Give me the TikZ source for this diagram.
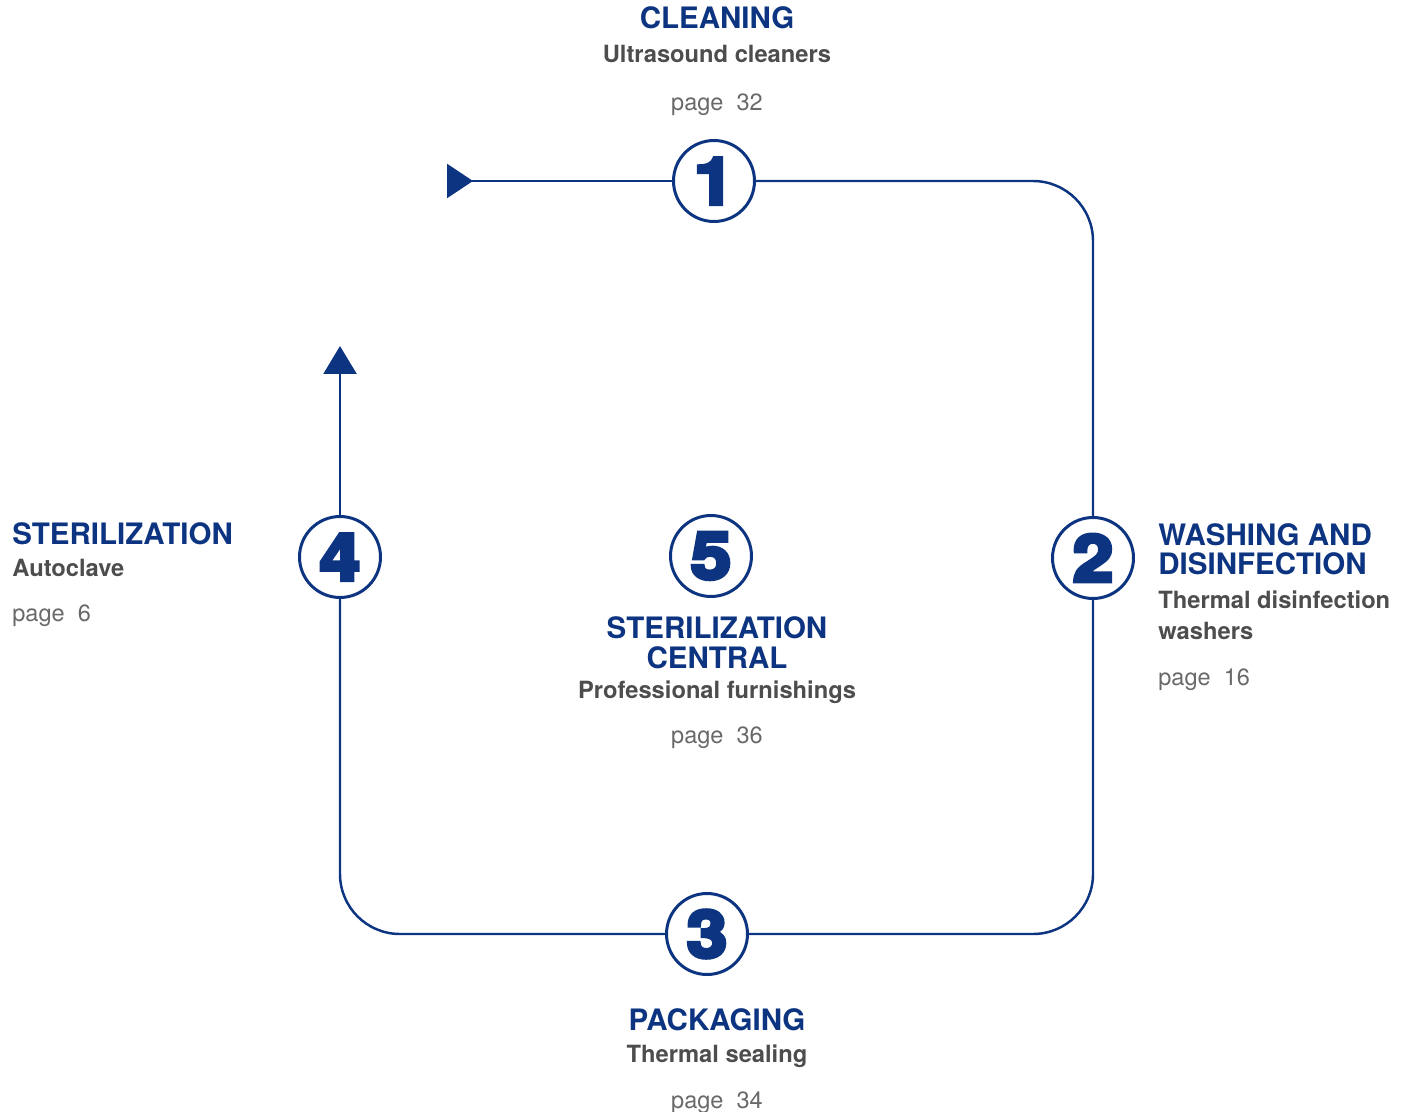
\documentclass[tikz,border=0pt]{standalone}
\usepackage{fontspec}
\setmainfont{TeX Gyre Heros}
\newfontfamily\digitfont[BoldFeatures={FakeBold=6,FakeStretch=1.12}]{TeX Gyre Heros}
\usetikzlibrary{arrows.meta}
\definecolor{stepblue}{RGB}{12,52,128}
\definecolor{subgray}{RGB}{77,77,77}
\definecolor{pagegray}{RGB}{105,105,105}

\begin{document}
\begin{tikzpicture}[x=0.02cm,y=-0.02cm,
    flow/.style={draw=stepblue,line width=1.4pt,rounded corners=1.2cm},
    stepnum/.style={circle,draw=stepblue,line width=1.7pt,fill=white,minimum size=1.62cm,inner sep=0pt,
      text=stepblue,font=\digitfont\fontsize{37}{37}\selectfont\bfseries},
    title/.style={inner sep=0pt,text=stepblue,font=\fontsize{16.8}{16.8}\selectfont\bfseries},
    subtitle/.style={inner sep=0pt,text=subgray,font=\fontsize{13.5}{13.5}\selectfont\bfseries},
    pageref/.style={inner sep=0pt,text=pagegray,font=\fontsize{13.4}{13.4}\selectfont},
    >={Triangle[length=0.56cm,width=0.66cm]}]
  \useasboundingbox (0,0) rectangle (1410,1112);

  % step circles
  \node[stepnum] (c1) at (714,181) {1};
  \node[stepnum] (c2) at (1093,558) {2};
  \node[stepnum] (c3) at (707,934) {3};
  \node[stepnum] (c4) at (340,557) {4};
  \node[stepnum] (c5) at (711,556) {5};
  \coordinate (start) at (447,181);
  \coordinate (end) at (340,346);

  % the loop
  \draw[flow,{Triangle[reversed,length=0.52cm,width=0.68cm]}-] (start) -- (c1);
  \draw[flow] (c1) -| (c2);
  \draw[flow] (c2) |- (c3);
  \draw[flow] (c3) -| (c4);
  \draw[flow,->] (c4) -- (end);

  % 1
  \node[title,anchor=base] (t1) at (717,29) {CLEANING};
  \node[subtitle,anchor=base] (s1) at (717,62) {Ultrasound cleaners};
  \node[pageref,anchor=base] (p1) at (717,110) {page\ \ 32};
  % 2
  \node[title,anchor=base west] (t2a) at (1158,545) {WASHING AND};
  \node[title,anchor=base west] (t2b) at (1158,574) {DISINFECTION};
  \node[subtitle,anchor=base west] (s2a) at (1158,608) {Thermal disinfection};
  \node[subtitle,anchor=base west] (s2b) at (1158,639) {washers};
  \node[pageref,anchor=base west] (p2) at (1158,685) {page\ \ 16};
  % 3
  \node[title,anchor=base] (t3) at (717,1030) {PACKAGING};
  \node[subtitle,anchor=base] (s3) at (717,1062) {Thermal sealing};
  \node[pageref,anchor=base] (p3) at (717,1108) {page\ \ 34};
  % 4
  \node[title,anchor=base west] (t4) at (12,544) {STERILIZATION};
  \node[subtitle,anchor=base west] (s4) at (12,576) {Autoclave};
  \node[pageref,anchor=base west] (p4) at (12,621) {page\ \ 6};
  % 5
  \node[title,anchor=base] (t5a) at (717,638) {STERILIZATION};
  \node[title,anchor=base] (t5b) at (717,668) {CENTRAL};
  \node[subtitle,anchor=base] (s5) at (717,698) {Professional furnishings};
  \node[pageref,anchor=base] (p5) at (717,743) {page\ \ 36};
\end{tikzpicture}
\end{document}
